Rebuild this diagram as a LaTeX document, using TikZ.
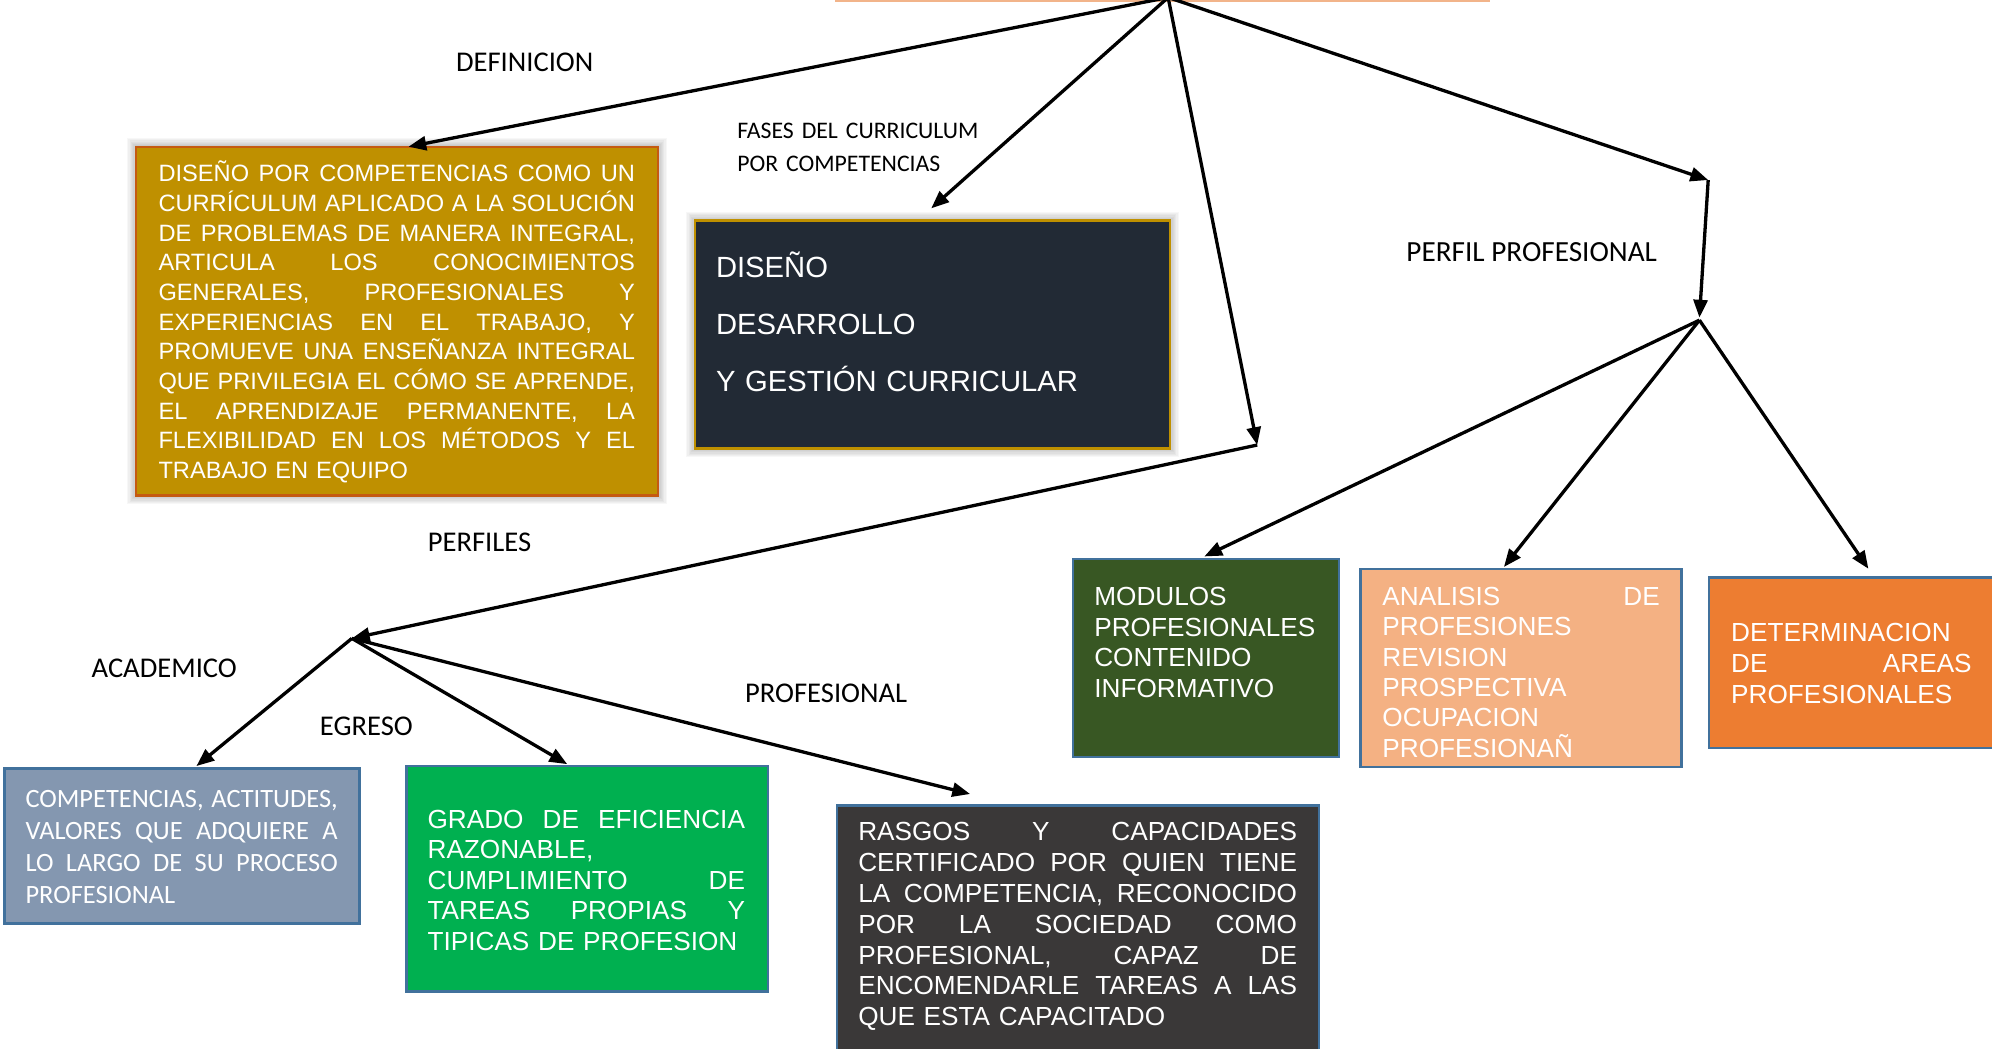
\documentclass[tikz,border=0pt]{standalone}
\usepackage{fontspec}
\setmainfont{Liberation Sans}
\newfontfamily\calib{Carlito}
\usetikzlibrary{arrows.meta,fit}
\definecolor{goldf}{HTML}{BF9000}
\definecolor{goldb}{HTML}{C55A11}
\definecolor{navy}{HTML}{222A35}
\definecolor{acadf}{HTML}{8497B0}
\definecolor{blueb}{HTML}{41719C}
\definecolor{greenf}{HTML}{00B050}
\definecolor{rasf}{HTML}{3A3838}
\definecolor{modf}{HTML}{385723}
\definecolor{anaf}{HTML}{F4B183}
\definecolor{detf}{HTML}{ED7D31}
\definecolor{topc}{HTML}{F2B48A}
\newcommand\JL[2]{\leavevmode\hbox to #1{\spaceskip=0.25em plus 1fil minus 0.1em\relax #2}}
\newcommand\softshadow[4]{\foreach \k in {1,...,7}{\fill[black,opacity=0.03] ({#1-\k},{#2-\k}) rectangle ({#3+\k},{#4+\k});}}
\begin{document}
\begin{tikzpicture}[x=1pt,y=-1pt,
  arr/.style={-{Triangle[length=14pt,width=11pt]},line width=2.6pt},
  box/.style={inner sep=0pt,outer sep=0pt,line width=1.8pt},
  lbl/.style={font=\calib\fontsize{22.5}{27}\selectfont,inner sep=0pt,text=black},
  txt/.style={anchor=base west,inner sep=0pt,outer sep=0pt,text=white,align=left,text width=#1}]
\useasboundingbox (0,0) rectangle (1568,825);
\fill[white] (0,0) rectangle (1568,825);
\clip (0,0) rectangle (1568,825);

% top bar (bottom edge of the title box)
\fill[topc] (657,-6) rectangle (1173,1.4);

% ---------- boxes ----------
\softshadow{107}{115.5}{518}{390}
\node[box,draw=goldb,fill=goldf,fit={(107,115.5)(518,390)}] (gold) {};
\node[txt=375pt,font=\fontsize{18.6}{23.36}\selectfont] (goldtxt) at (124.8,143.1)
{\JL{375pt}{DISEÑO POR COMPETENCIAS COMO UN}\\
\JL{375pt}{CURRÍCULUM APLICADO A LA SOLUCIÓN}\\
\JL{375pt}{DE PROBLEMAS DE MANERA INTEGRAL,}\\
\JL{375pt}{ARTICULA LOS CONOCIMIENTOS}\\
\JL{375pt}{GENERALES, PROFESIONALES Y}\\
\JL{375pt}{EXPERIENCIAS EN EL TRABAJO, Y}\\
\JL{375pt}{PROMUEVE UNA ENSEÑANZA INTEGRAL}\\
\JL{375pt}{QUE PRIVILEGIA EL CÓMO SE APRENDE,}\\
\JL{375pt}{EL APRENDIZAJE PERMANENTE, LA}\\
\JL{375pt}{FLEXIBILIDAD EN LOS MÉTODOS Y EL}\\
TRABAJO EN EQUIPO};

\softshadow{547}{173.5}{921}{353}
\node[box,draw=goldf,fill=navy,fit={(547,173.5)(921,353)}] (fases) {};
\node[txt=340pt,font=\fontsize{23}{44.9}\selectfont] (fasestxt) at (563.6,218.1)
{DISEÑO\\DESARROLLO\\Y GESTIÓN CURRICULAR};

\node[box,draw=blueb,fill=acadf,fit={(3.5,605)(283,727)}] (acad) {};
\node[txt=245.8pt,font=\calib\fontsize{20.8}{25.2}\selectfont] (acadtxt) at (20.1,635.5)
{\JL{245.8pt}{COMPETENCIAS, ACTITUDES,}\\
\JL{245.8pt}{VALORES QUE ADQUIERE A}\\
\JL{245.8pt}{LO LARGO DE SU PROCESO}\\
PROFESIONAL};

\node[box,draw=blueb,fill=greenf,fit={(320,603)(604.5,780.5)}] (egreso) {};
\node[txt=249.8pt,font=\fontsize{20.6}{24.05}\selectfont] (egresotxt) at (336.6,651.9)
{\JL{249.8pt}{GRADO DE EFICIENCIA}\\
RAZONABLE,\\
\JL{249.8pt}{CUMPLIMIENTO DE}\\
\JL{249.8pt}{TAREAS PROPIAS Y}\\
TIPICAS DE PROFESION};

\node[box,draw=blueb,fill=rasf,fit={(659,634)(1038,845)}] (rasgos) {};
\node[txt=345.4pt,font=\fontsize{20.6}{24.25}\selectfont] (rasgostxt) at (675.6,661.9)
{\JL{345.4pt}{RASGOS Y CAPACIDADES}\\
\JL{345.4pt}{CERTIFICADO POR QUIEN TIENE}\\
\JL{345.4pt}{LA COMPETENCIA, RECONOCIDO}\\
\JL{345.4pt}{POR LA SOCIEDAD COMO}\\
\JL{345.4pt}{PROFESIONAL, CAPAZ DE}\\
\JL{345.4pt}{ENCOMENDARLE TAREAS A LAS}\\
QUE ESTA CAPACITADO};

\node[box,draw=blueb,fill=modf,fit={(844.5,440)(1054,596)}] (modulos) {};
\node[txt=185pt,font=\fontsize{20.6}{24.2}\selectfont] (modulostxt) at (861.4,476.6)
{MODULOS\\PROFESIONALES\\CONTENIDO\\INFORMATIVO};

\node[box,draw=blueb,fill=anaf,fit={(1071,448)(1323.5,603.5)}] (analisis) {};
\begin{scope}
\clip (1071,448) rectangle (1323.5,597);
\node[txt=218.3pt,font=\fontsize{20.6}{23.9}\selectfont] (analisistxt) at (1088.2,476.6)
{\JL{218.3pt}{ANALISIS DE}\\
PROFESIONES\\REVISION\\PROSPECTIVA\\OCUPACION\\PROFESIONAÑ};
\end{scope}

\node[box,draw=blueb,fill=detf,fit={(1345,454.5)(1600,588.5)}] (areas) {};
\node[txt=189.3pt,font=\fontsize{20.6}{24.25}\selectfont] (areastxt) at (1362.7,505)
{DETERMINACION\\
\JL{189.3pt}{DE AREAS}\\
PROFESIONALES};

% ---------- labels ----------
\node[lbl] (ldef) at (413,49.2) {DEFINICION};
\node[lbl,font=\calib\fontsize{18.7}{25.7}\selectfont,anchor=base west,align=left,text width=220pt] (lfases) at (580.2,108.9)
{FASES DEL CURRICULUM\\POR COMPETENCIAS};
\node[lbl,font=\calib\fontsize{23}{27}\selectfont] (lperfil) at (1205.7,198.8) {PERFIL PROFESIONAL};
\node[lbl] (lperfiles) at (377.5,426.9) {PERFILES};
\node[lbl] (lacad) at (129.3,526.2) {ACADEMICO};
\node[lbl] (legreso) at (288.4,571.8) {EGRESO};
\node[lbl] (lprof) at (650.3,546.1) {PROFESIONAL};

% ---------- connectors ----------
\coordinate (R) at (919.5,-2);
\coordinate (tdef) at (321.5,115.5);
\coordinate (tfas) at (733,164);
\coordinate (J1) at (989.6,350.3);
\coordinate (K1) at (1344.6,141.7);
\coordinate (J3) at (1337.7,250);
\coordinate (J3s) at (1337.7,252);
\coordinate (J2) at (277,502.5);
\coordinate (tacad) at (154.6,603);
\coordinate (tgreen) at (446.5,601.5);
\coordinate (tras) at (763.6,625);
\coordinate (tmod) at (948,438);
\coordinate (tana) at (1183.8,446.3);
\coordinate (tdet) at (1470.7,447.7);

\draw[arr] (R) -- (tdef);
\draw[arr] (R) -- (tfas);
\draw[arr] (R) -- (J1);
\draw[arr] (R) -- (K1);
\draw[arr] (J1) -- (J2);
\draw[arr] (K1) -- (J3);
\draw[arr] (J2) -- (tacad);
\draw[arr] (J2) -- (tgreen);
\draw[arr] (J2) -- (tras);
\draw[arr] (J3s) -- (tmod);
\draw[arr] (J3s) -- (tana);
\draw[arr] (J3s) -- (tdet);
\end{tikzpicture}
\end{document}
